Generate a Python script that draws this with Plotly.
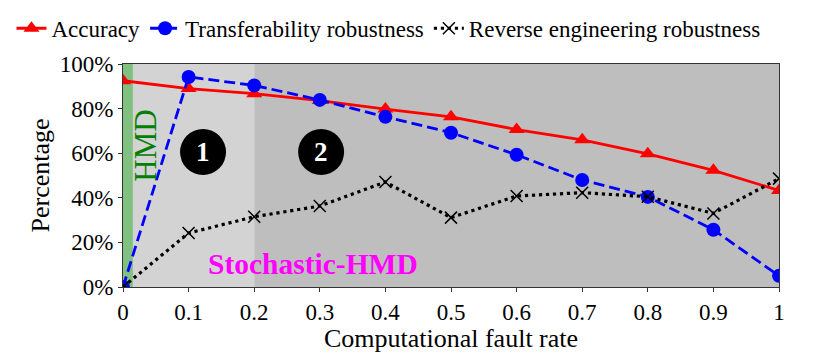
import plotly.graph_objects as go

fault_rate = [0, 0.1, 0.2, 0.3, 0.4, 0.5, 0.6, 0.7, 0.8, 0.9, 1.0]
accuracy = [92.5, 89, 86.7, 83.6, 79.8, 76.3, 70.6, 66, 59.7, 52.3, 43.3]
transferability = [0, 94.2, 90.4, 83.9, 76.3, 69.2, 59.3, 48, 40.4, 25.7, 5]
reverse_eng = [0, 24.2, 31.5, 36.3, 47.1, 31.1, 40.8, 42.3, 40.5, 33, 48.6]

x_ticks = [0, 0.1, 0.2, 0.3, 0.4, 0.5, 0.6, 0.7, 0.8, 0.9, 1.0]
x_tick_labels = ["0", "0.1", "0.2", "0.3", "0.4", "0.5", "0.6", "0.7", "0.8", "0.9", "1"]
y_ticks = [0, 20, 40, 60, 80, 100]
y_tick_labels = ["0%", "20%", "40%", "60%", "80%", "100%"]

FONT = "Liberation Serif, Times New Roman, DejaVu Serif, serif"
FS = 23

fig = go.Figure()
fig.add_trace(go.Scatter(x=fault_rate, y=accuracy, name="Accuracy", mode="lines+markers",
                         line=dict(color="#ff0000", width=2.8),
                         marker=dict(symbol="triangle-up", size=14, color="#ff0000")))
fig.add_trace(go.Scatter(x=fault_rate, y=transferability, name="Transferability robustness",
                         mode="lines+markers",
                         line=dict(color="#0000ff", width=2.8, dash="11px,5px"),
                         marker=dict(symbol="circle", size=14, color="#0000ff")))
fig.add_trace(go.Scatter(x=fault_rate, y=reverse_eng, name="Reverse engineering robustness",
                         mode="lines+markers",
                         line=dict(color="#000000", width=3.2, dash="3.2px,3.8px"),
                         marker=dict(symbol="x-thin", size=12, color="#000000",
                                     line=dict(width=1.5, color="#000000"))))

# background regions
fig.add_shape(type="rect", xref="x", yref="paper", x0=0, x1=0.2, y0=0, y1=1,
              fillcolor="#d3d3d3", line_width=0, layer="below")
fig.add_shape(type="rect", xref="x", yref="paper", x0=0.2, x1=1.0, y0=0, y1=1,
              fillcolor="#bebebe", line_width=0, layer="below")
fig.add_shape(type="rect", xref="x", yref="paper", x0=0, x1=0.015, y0=0, y1=1,
              fillcolor="#80c080", line_width=0, layer="below")

# numbered circles
for cx, label in [(0.122, "1"), (0.302, "2")]:
    fig.add_shape(type="circle", xref="x", yref="y", xsizemode="pixel", ysizemode="pixel",
                  xanchor=cx, yanchor=60.5, x0=-23, x1=23, y0=-23, y1=23,
                  fillcolor="#000000", line=dict(color="#000000", width=0), layer="above")
    fig.add_annotation(x=cx, y=60.5, text="<b>" + label + "</b>", showarrow=False,
                       font=dict(family=FONT, size=27, color="white"))

fig.add_annotation(x=0.034, y=63.5, text="HMD", textangle=-90, showarrow=False,
                   font=dict(family=FONT, size=31, color="#008000"))
fig.add_annotation(x=0.29, y=10.5, text="<b>Stochastic-HMD</b>", showarrow=False,
                   font=dict(family=FONT, size=29.5, color="#ff00ff"))

# the page body adds an 8px offset; compensate so the plot area lands at x 123..779, y 64..287
fig.update_layout(
    width=822, height=345,
    margin=dict(l=115, r=51, t=56, b=66, autoexpand=False),
    paper_bgcolor="white", plot_bgcolor="white",
    font=dict(family=FONT, size=FS, color="black"),
    showlegend=True,
    legend=dict(orientation="h", x=-0.17, xanchor="left", xref="paper",
                y=1.16, yanchor="middle", yref="paper", font=dict(size=23),
                itemwidth=30, tracegroupgap=0, bgcolor="rgba(0,0,0,0)"),
    xaxis=dict(range=[0, 1], tickvals=x_ticks, ticktext=x_tick_labels, showgrid=False,
               zeroline=False, showline=True, mirror=True, linecolor="#333333", linewidth=1.2,
               ticks="outside", ticklen=4, tickcolor="#333333", tickfont=dict(size=23),
               title=dict(text="Computational fault rate", standoff=0, font=dict(size=26))),
    yaxis=dict(range=[0, 100], tickvals=y_ticks, ticktext=y_tick_labels, showgrid=False,
               zeroline=False, showline=True, mirror=True, linecolor="#333333", linewidth=1.2,
               ticks="outside", ticklen=4, tickcolor="#333333", tickfont=dict(size=23),
               title=dict(text="Percentage", standoff=2, font=dict(size=26))),
)

fig.write_html("out.html")
